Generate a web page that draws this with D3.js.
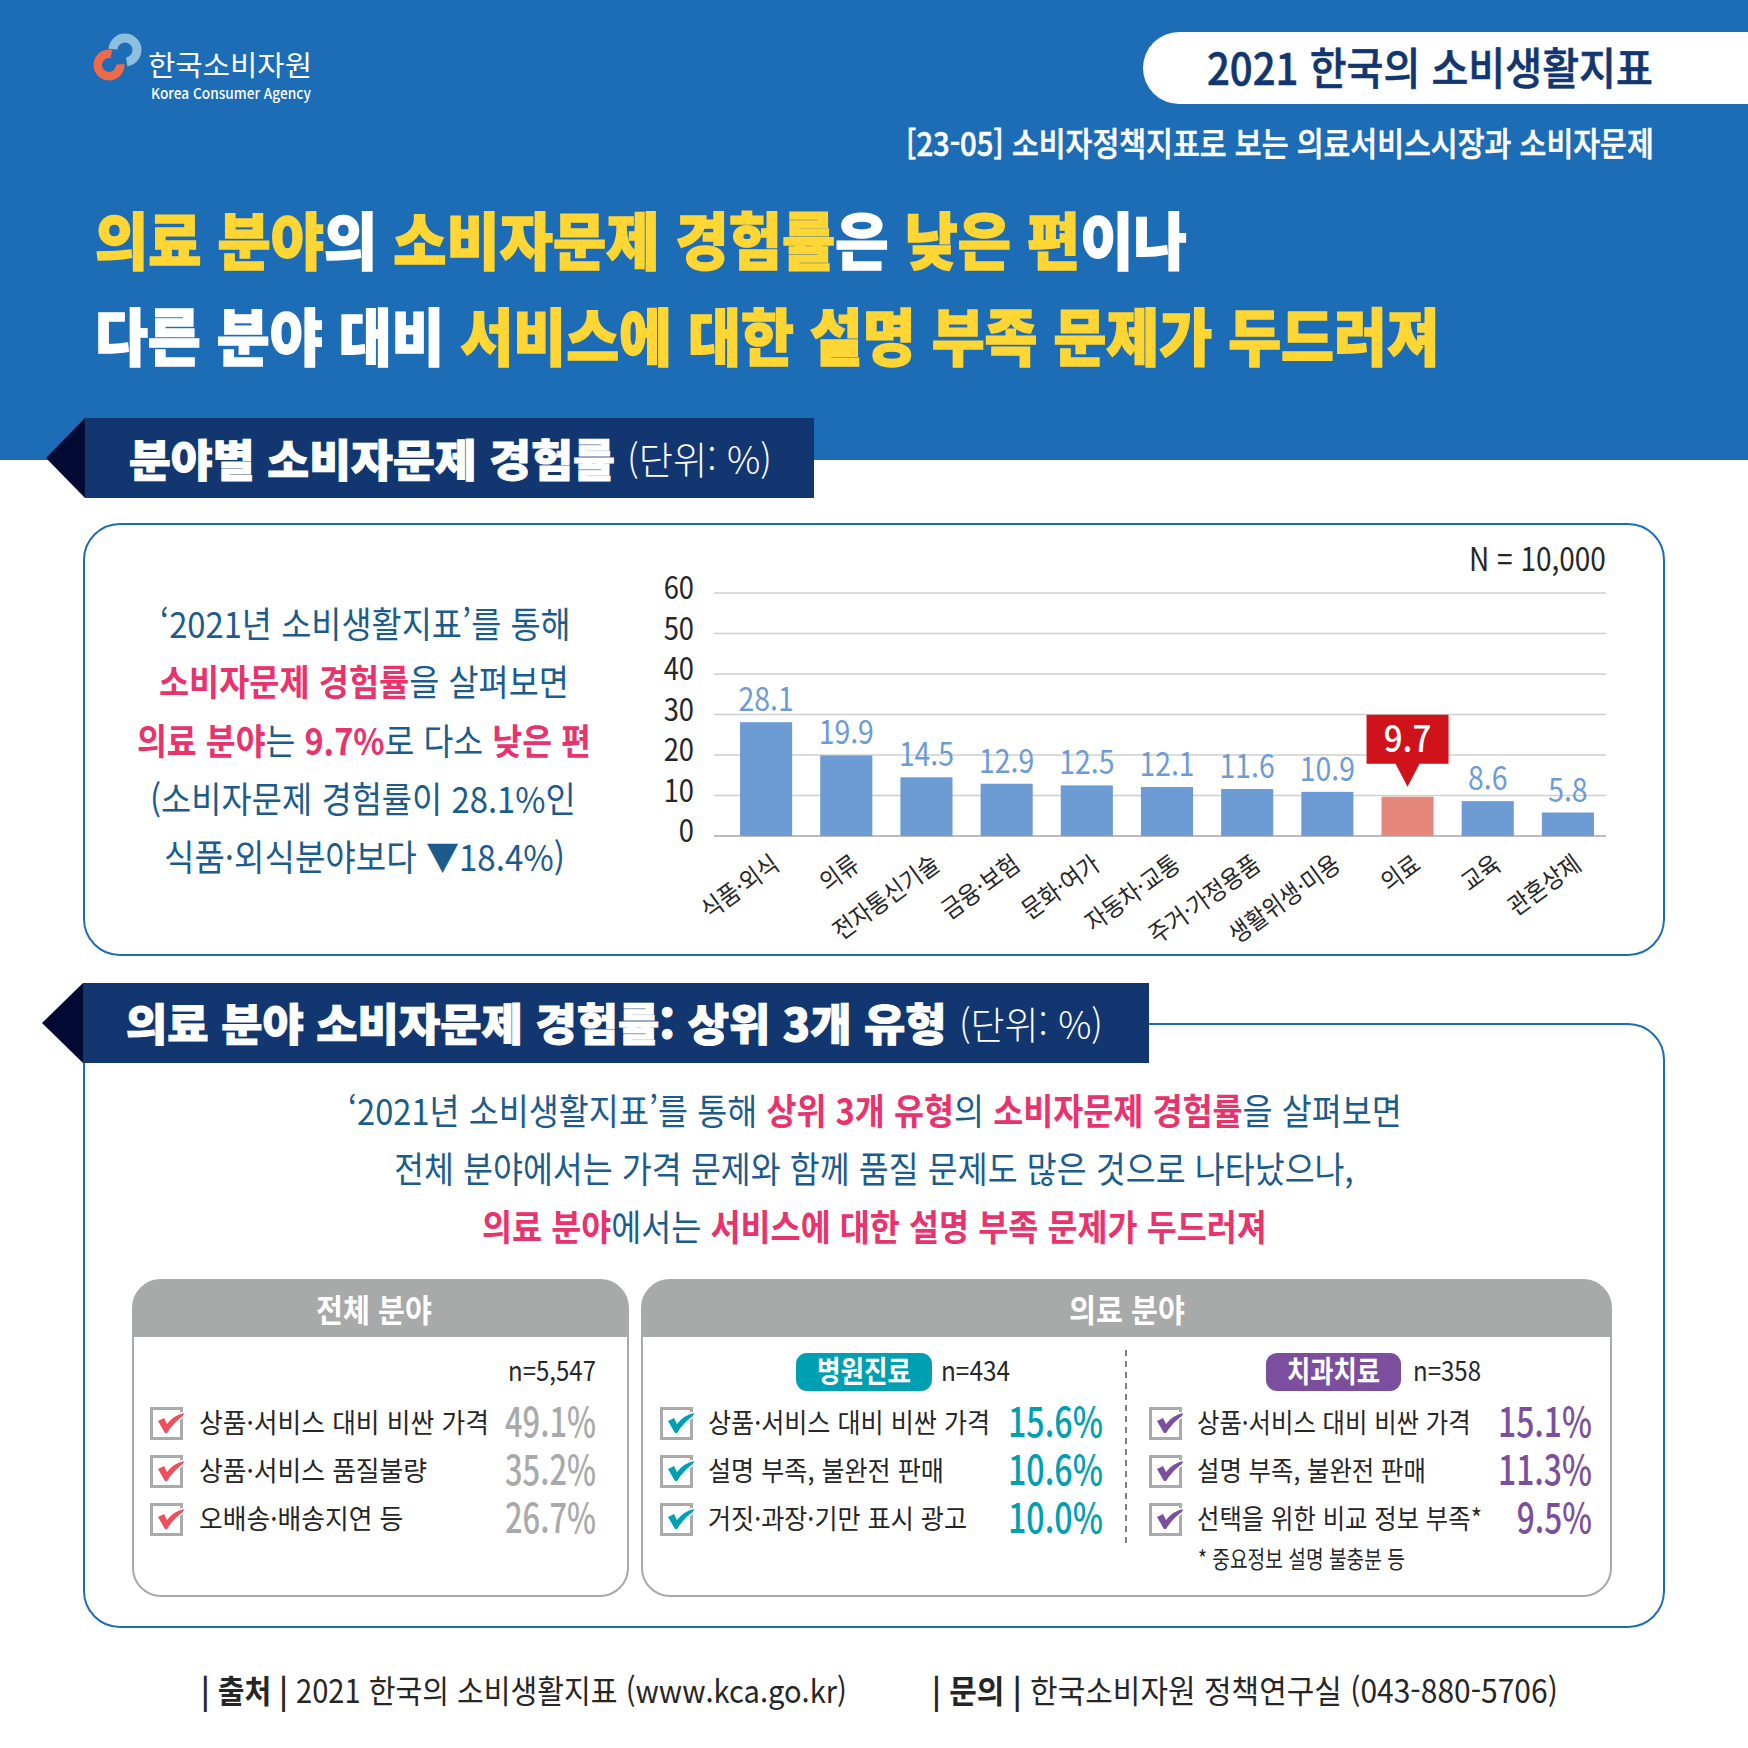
<!DOCTYPE html>
<html lang="ko">
<head>
<meta charset="utf-8">
<script src="https://cdn.jsdelivr.net/npm/d3@7"></script>
<style>
  html, body { margin: 0; padding: 0; background: #fff; }
  text { font-family: "Noto Sans CJK KR", "Noto Sans", sans-serif; }
</style>
</head>
<body>
<div id="canvas"></div>
<script>
// chart data
let categories = ["식품·외식", "의류", "전자통신기술", "금융·보험", "문화·여가", "자동차·교통", "주거·가정용품", "생활위생·미용", "의료", "교육", "관혼상제"];
let rates = [28.1, 19.9, 14.5, 12.9, 12.5, 12.1, 11.6, 10.9, 9.7, 8.6, 5.8];
let yTicks = [0, 10, 20, 30, 40, 50, 60];
let highlighted = "의료";

// top 3 lists
let allItems = ["상품·서비스 대비 비싼 가격", "상품·서비스 품질불량", "오배송·배송지연 등"];
let allValues = ["49.1%", "35.2%", "26.7%"];
let hospitalItems = ["상품·서비스 대비 비싼 가격", "설명 부족, 불완전 판매", "거짓·과장·기만 표시 광고"];
let hospitalValues = ["15.6%", "10.6%", "10.0%"];
let dentalItems = ["상품·서비스 대비 비싼 가격", "설명 부족, 불완전 판매", "선택을 위한 비교 정보 부족*"];
let dentalValues = ["15.1%", "11.3%", "9.5%"];

let width = 1748;
let height = 1748;

let blue = "#1c6cb6";
let navy = "#12366f";
let yellow = "#ffd633";
let pink = "#e8336d";
let body = "#1c5c8c";
let grey = "#a8a9a9";
let teal = "#00a0b2";
let purple = "#7b4f9d";
let dark = "#262626";

var svg = d3.select("#canvas").append("svg")
    .attr("width", width)
    .attr("height", height)
    .style("display", "block");

// draws coloured runs on one line, squeezed to the given width
function line(runs, x, y, w, size, weight, fill) {
    let t = svg.append("text")
        .attr("font-size", size)
        .attr("font-weight", weight)
        .attr("fill", fill)
        .attr("xml:space", "preserve")
        .style("white-space", "pre");
    runs.forEach(r => {
        let s = t.append("tspan").text(r[0]);
        if (r[1]) s.attr("fill", r[1]);
        if (r[2]) s.attr("font-weight", r[2]);
    });
    let natural = t.node().getComputedTextLength();
    t.attr("transform", `translate(${x},${y}) scale(${w / natural},1)`);
    return t;
}

function plain(str, x, y, w, size, weight, fill) {
    return line([[str]], x, y, w, size, weight, fill);
}

// ---- header ----
svg.append("rect").attr("width", width).attr("height", 460).attr("fill", blue);

// logo rings
svg.append("path")
    .attr("transform", "translate(125,50)")
    .attr("d", d3.arc().innerRadius(7.5).outerRadius(16.5)({ startAngle: -1.5, endAngle: 3.0 }))
    .attr("fill", "#8fbfdf");
svg.append("path")
    .attr("transform", "translate(109,65)")
    .attr("d", d3.arc().innerRadius(7).outerRadius(15.5)({ startAngle: 1.5, endAngle: 6.5 }))
    .attr("fill", "#ef6a4a");
plain("한국소비자원", 148, 76, 164, 28, 400, "#fff");
plain("Korea Consumer Agency", 151, 99, 160, 15, 500, "#fff");

svg.append("path")
    .attr("d", "M1748 32H1179a36 36 0 0 0 0 72H1748Z")
    .attr("fill", "#fff");
plain("2021 한국의 소비생활지표", 1207, 85, 446, 44, 500, navy)
    .attr("stroke", navy).attr("stroke-width", 0.6);
plain("[23-05] 소비자정책지표로 보는 의료서비스시장과 소비자문제", 906, 156, 748, 33, 500, "#fff")
    .attr("stroke", "#fff").attr("stroke-width", 0.6);

let heavy = [
    line([["의료 분야", yellow], ["의", "#fff"], [" 소비자문제 경험률", yellow], ["은 ", "#fff"], ["낮은 편", yellow], ["이나", "#fff"]], 95, 265, 1092, 62, 900, "#fff"),
    line([["다른 분야 대비 ", "#fff"], ["서비스에 대한 설명 부족 문제가 두드러져", yellow]], 95, 361, 1345, 62, 900, "#fff")
];
heavy.forEach(t => t.selectAll("tspan").attr("stroke", function () { return d3.select(this).attr("fill"); }).attr("stroke-width", 1.5));

// ---- section 1 ----
function sectionBar(x1, y1, y2, tip, x2) {
    svg.append("path")
        .attr("d", `M${x1} ${y1}L${tip} ${(y1 + y2) / 2}L${x1} ${y2}Z`)
        .attr("fill", "#020a33");
    svg.append("rect")
        .attr("x", x1).attr("y", y1)
        .attr("width", x2 - x1).attr("height", y2 - y1)
        .attr("fill", navy);
}

function panel(x, y, w, h, r, stroke) {
    return svg.append("rect")
        .attr("x", x).attr("y", y)
        .attr("width", w).attr("height", h)
        .attr("rx", r)
        .attr("fill", "#fff")
        .attr("stroke", stroke)
        .attr("stroke-width", 2);
}

panel(84, 524, 1580, 431, 36, blue);
sectionBar(85, 418, 498, 46, 814);
plain("분야별 소비자문제 경험률", 129, 477, 486, 44, 900, "#fff")
    .attr("stroke", "#fff").attr("stroke-width", 1);
plain("(단위: %)", 627, 474, 145, 38, 300, "#fff");

line([["‘2021년 소비생활지표’를 통해"]], 160, 638, 411, 36, 400, body);
line([["소비자문제 경험률", pink, 700], ["을 살펴보면"]], 159, 696, 410, 36, 400, body);
line([["의료 분야", pink, 700], ["는 "], ["9.7%", pink, 700], ["로 다소 "], ["낮은 편", pink, 700]], 137, 755, 454, 36, 400, body);
line([["(소비자문제 경험률이 28.1%인"]], 150, 813, 426, 36, 400, body);
line([["식품·외식분야보다 ▼18.4%)"]], 164, 871, 401, 36, 400, body);

plain("N = 10,000", 1469, 571, 137, 32, 400, dark);

// bar chart
var xScale = d3.scaleBand()
    .domain(categories)
    .range([726, 1608])
    .paddingInner(0.35)
    .paddingOuter(0.175);

var yScale = d3.scaleLinear()
    .domain([0, 60])
    .range([836, 593]);

var yAxis = d3.axisLeft(yScale)
    .tickValues(yTicks)
    .tickSize(0)
    .tickPadding(0);

var axisG = svg.append("g")
    .attr("transform", "translate(694,0)")
    .call(yAxis);
axisG.select(".domain").remove();
axisG.selectAll("text")
    .attr("font-size", 31)
    .attr("fill", dark)
    .attr("x", 0)
    .style("font-family", '"Noto Sans CJK KR"')
    .attr("transform", "translate(0,-4) scale(0.88,1)");

svg.selectAll(".grid")
    .data(yTicks)
    .enter().append("line")
    .attr("class", "grid")
    .attr("x1", 714)
    .attr("x2", 1606)
    .attr("y1", d => yScale(d))
    .attr("y2", d => yScale(d))
    .attr("stroke", d => d === 0 ? "#a6a6a6" : "#cfcfcf")
    .attr("stroke-width", 1.5);

var bars = categories.map((c, i) => ({ name: c, value: rates[i] }));

svg.selectAll(".bar")
    .data(bars)
    .enter().append("rect")
    .attr("class", "bar")
    .attr("x", d => xScale(d.name))
    .attr("y", d => yScale(d.value))
    .attr("width", xScale.bandwidth())
    .attr("height", d => yScale(0) - yScale(d.value))
    .attr("fill", d => d.name === highlighted ? "#e5877a" : "#6d9bd3");

svg.selectAll(".value")
    .data(bars.filter(d => d.name !== highlighted))
    .enter().append("text")
    .attr("class", "value")
    .attr("text-anchor", "middle")
    .attr("font-size", 33)
    .attr("fill", "#6d9bd3")
    .attr("transform", d => `translate(${xScale(d.name) + xScale.bandwidth() / 2},${yScale(d.value) - 11}) scale(0.86,1)`)
    .text(d => d.value.toFixed(1));

svg.selectAll(".cat")
    .data(categories)
    .enter().append("text")
    .attr("class", "cat")
    .attr("text-anchor", "end")
    .attr("font-size", 25)
    .attr("fill", dark)
    .attr("transform", d => `translate(${xScale(d) + xScale.bandwidth() / 2 + 15},${868}) rotate(-36) scale(0.9,1)`)
    .text(d => d);

// callout on the highlighted bar
let hx = xScale(highlighted) + xScale.bandwidth() / 2;
let hy = yScale(rates[categories.indexOf(highlighted)]);
svg.append("path")
    .attr("d", `M${hx - 41} ${hy - 82}H${hx + 41}V${hy - 33}H${hx + 12}L${hx} ${hy - 10}L${hx - 12} ${hy - 33}H${hx - 41}Z`)
    .attr("fill", "#d0121a");
svg.append("text")
    .attr("text-anchor", "middle")
    .attr("font-size", 36)
    .attr("font-weight", 500)
    .attr("fill", "#fff")
    .attr("transform", `translate(${hx},${hy - 45}) scale(0.92,1)`)
    .text(rates[categories.indexOf(highlighted)].toFixed(1));

// ---- section 2 ----
panel(84, 1024, 1580, 603, 36, blue);
sectionBar(83, 983, 1063, 42, 1149);
plain("의료 분야 소비자문제 경험률: 상위 3개 유형", 126, 1041, 821, 44, 900, "#fff")
    .attr("stroke", "#fff").attr("stroke-width", 1);
plain("(단위: %)", 959, 1039, 144, 38, 300, "#fff");

line([["‘2021년 소비생활지표’를 통해 "], ["상위 3개 유형", pink, 700], ["의 "], ["소비자문제 경험률", pink, 700], ["을 살펴보면"]], 348, 1125, 1054, 36, 400, body);
line([["전체 분야에서는 가격 문제와 함께 품질 문제도 많은 것으로 나타났으나,"]], 394, 1183, 960, 36, 400, body);
line([["의료 분야", pink, 700], ["에서는 "], ["서비스에 대한 설명 부족 문제가 두드러져", pink, 700]], 482, 1241, 785, 36, 400, body);

// grey header panels
function tablePanel(x1, x2, title, cx) {
    panel(x1, 1280, x2 - x1, 316, 28, grey);
    svg.append("path")
        .attr("d", `M${x1} 1337V1308a28 28 0 0 1 28 -28H${x2 - 28}a28 28 0 0 1 28 28V1337Z`)
        .attr("fill", grey);
    plain(title, cx - 58, 1322, 116, 32, 700, "#fff");
}
tablePanel(133, 628, "전체 분야", 374);
tablePanel(642, 1611, "의료 분야", 1127);

function tag(x1, x2, label, fill) {
    svg.append("rect")
        .attr("x", x1).attr("y", 1353)
        .attr("width", x2 - x1).attr("height", 38)
        .attr("rx", 11)
        .attr("fill", fill);
    plain(label, x1 + 21, 1382, x2 - x1 - 42, 30, 700, "#fff");
}
tag(796, 932, "병원진료", teal);
tag(1266, 1401, "치과치료", purple);

plain("n=5,547", 508, 1381, 88, 27, 400, dark);
plain("n=434", 941, 1381, 69, 27, 400, dark);
plain("n=358", 1413, 1381, 68, 27, 400, dark);

svg.append("line")
    .attr("x1", 1126).attr("x2", 1126)
    .attr("y1", 1350).attr("y2", 1546)
    .attr("stroke", "#555")
    .attr("stroke-width", 1.5)
    .attr("stroke-dasharray", "6 5");

var rowY = d3.scalePoint().domain([0, 1, 2]).range([1407, 1503]);

function checklist(items, values, boxX, textX, squeeze, valueRight, valueWidth, color, valueColor) {
    items.forEach((item, i) => {
        let y = rowY(i);
        svg.append("rect")
            .attr("x", boxX + 1.5).attr("y", y + 1.5)
            .attr("width", 30).attr("height", 30)
            .attr("fill", "#fff")
            .attr("stroke", "#aaa")
            .attr("stroke-width", 3);
        svg.append("path")
            .attr("transform", `translate(${boxX},${y})`)
            .attr("d", "M8 14L14 11L17 17Q24 8 34 6L33 9Q24 15 17 26L15 26Z")
            .attr("fill", color)
            .attr("stroke", "#fff")
            .attr("stroke-width", 3)
            .attr("paint-order", "stroke");
        svg.append("text")
            .attr("font-size", 27)
            .attr("fill", dark)
            .attr("transform", `translate(${textX},${y + 26}) scale(${squeeze},1)`)
            .text(item);
        let w = valueWidth * values[i].length / 5;
        plain(values[i], valueRight - w, y + 30, w, 41, 500, valueColor);
    });
}
checklist(allItems, allValues, 150, 199, 0.956, 596, 91, "#ee4f5a", grey);
checklist(hospitalItems, hospitalValues, 660, 708, 0.93, 1103, 95, teal, teal);
checklist(dentalItems, dentalValues, 1149, 1197, 0.902, 1592, 94, purple, purple);

plain("* 중요정보 설명 불충분 등", 1198, 1568, 207, 24, 400, dark);

// ---- footer ----
line([["| 출처 | ", dark, 700], ["2021 한국의 소비생활지표 (www.kca.go.kr)"]], 201, 1703, 646, 32, 400, dark);
line([["| 문의 | ", dark, 700], ["한국소비자원 정책연구실 (043-880-5706)"]], 932, 1703, 626, 32, 400, dark);
</script>
</body>
</html>
